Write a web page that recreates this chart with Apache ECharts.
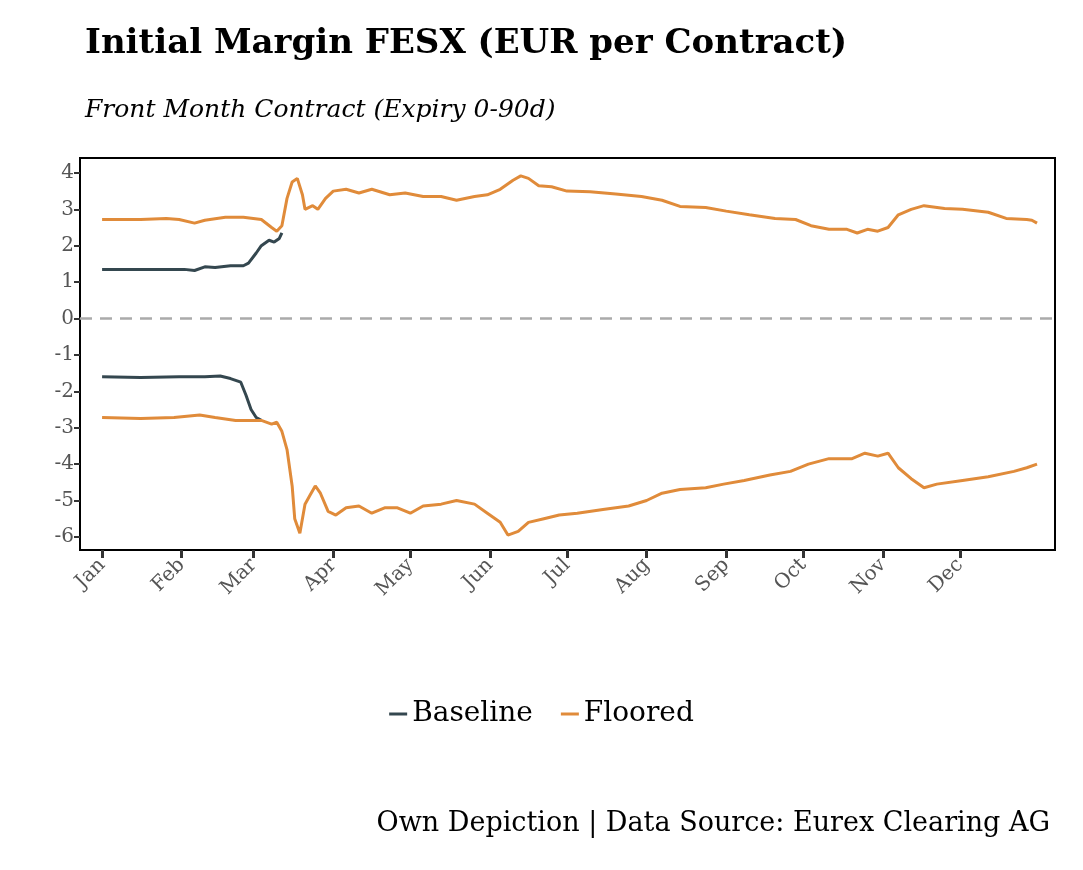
<!DOCTYPE html><html><head><meta charset="utf-8">
<script src="https://cdn.jsdelivr.net/npm/echarts@6/dist/echarts.min.js"></script>
<style>body{margin:0}#c{width:1083px;height:870px}</style></head><body><div id="c"></div>
<script>
const monthLabels=['Jan','Feb','Mar','Apr','May','Jun','Jul','Aug','Sep','Oct','Nov','Dec'];
const monthStarts=[0,31,59,90,120,151,181,212,243,273,304,334];
const yTicks=[-6,-5,-4,-3,-2,-1,0,1,2,3,4];
const baselineUpper=[[0,1.35],[20,1.35],[32,1.35],[36,1.32],[40,1.42],[44,1.4],[50,1.45],[55,1.45],[57,1.52],[60,1.8],[62,2.0],[65,2.15],[67,2.1],[69,2.2],[70,2.35]];
const baselineLower=[[0,-1.6],[15,-1.62],[30,-1.6],[40,-1.6],[46,-1.58],[50,-1.65],[54,-1.75],[56,-2.1],[58,-2.5],[60,-2.72],[62,-2.8]];
const flooredUpper=[[0,2.72],[15,2.72],[25,2.75],[30,2.72],[36,2.62],[40,2.7],[48,2.78],[55,2.78],[62,2.72],[66,2.5],[68,2.4],[70,2.55],[72,3.3],[74,3.75],[76,3.85],[78,3.4],[79,3.0],[82,3.1],[84,3.0],[87,3.3],[90,3.5],[95,3.55],[100,3.45],[105,3.55],[112,3.4],[118,3.45],[125,3.35],[132,3.35],[138,3.25],[145,3.35],[150,3.4],[155,3.55],[160,3.8],[163,3.92],[166,3.85],[170,3.65],[175,3.62],[181,3.5],[190,3.48],[200,3.42],[210,3.35],[218,3.25],[225,3.08],[235,3.05],[243,2.95],[252,2.85],[262,2.75],[270,2.72],[276,2.55],[283,2.45],[290,2.45],[294,2.35],[298,2.45],[302,2.4],[306,2.5],[310,2.85],[315,3.0],[320,3.1],[328,3.02],[335,3.0],[345,2.92],[352,2.75],[360,2.72],[362,2.7],[364,2.62]];
const flooredLower=[[0,-2.72],[15,-2.75],[28,-2.72],[38,-2.65],[44,-2.72],[52,-2.8],[62,-2.8],[66,-2.9],[68,-2.85],[70,-3.1],[72,-3.6],[74,-4.6],[75,-5.5],[77,-5.9],[79,-5.1],[81,-4.85],[83,-4.6],[85,-4.8],[88,-5.3],[91,-5.4],[95,-5.2],[100,-5.15],[105,-5.35],[110,-5.2],[115,-5.2],[120,-5.35],[125,-5.15],[132,-5.1],[138,-5.0],[145,-5.1],[150,-5.35],[155,-5.6],[158,-5.95],[162,-5.85],[166,-5.6],[172,-5.5],[178,-5.4],[185,-5.35],[195,-5.25],[205,-5.15],[212,-5.0],[218,-4.8],[225,-4.7],[235,-4.65],[242,-4.55],[250,-4.45],[260,-4.3],[268,-4.2],[275,-4.0],[283,-3.85],[292,-3.85],[297,-3.7],[302,-3.78],[306,-3.7],[310,-4.1],[315,-4.4],[320,-4.65],[325,-4.55],[335,-4.45],[345,-4.35],[355,-4.2],[360,-4.1],[364,-4.0]];
const cB='#34474f',cF='#e08b3a';
const font='DejaVu Serif';
function line(name,data,color){return{name,type:'line',data,showSymbol:false,symbol:'none',smooth:false,lineStyle:{width:3,color},itemStyle:{color},z:name==='Floored'?3:2};}
const chart=echarts.init(document.getElementById('c'));
chart.setOption({
 animation:false,
 textStyle:{fontFamily:font},
 title:[{text:'Initial Margin FESX (EUR per Contract)',left:80,top:22,textStyle:{fontFamily:font,fontWeight:'bold',fontSize:34,color:'#000'}},
  {text:'Front Month Contract (Expiry 0-90d)',left:80,top:93,textStyle:{fontFamily:font,fontStyle:'italic',fontWeight:'normal',fontSize:25,color:'#000'}},
  {text:'Own Depiction | Data Source: Eurex Clearing AG',right:28,top:805,textStyle:{fontFamily:font,fontWeight:'normal',fontSize:27,color:'#000'}}],
 legend:{data:['Baseline','Floored'],top:695,left:'center',itemWidth:18,itemHeight:3,icon:'rect',itemGap:28,textStyle:{fontFamily:font,fontSize:28,color:'#000'}},
 grid:{left:80,right:28,top:158,bottom:320,show:true,borderColor:'#000',borderWidth:2,backgroundColor:'transparent'},
 xAxis:{type:'value',min:-8.6,max:371,splitLine:{show:false},axisLine:{show:false,onZero:false},
  axisTick:{show:true,customValues:monthStarts,length:8,lineStyle:{color:'#333',width:3},inside:false},
  axisLabel:{customValues:monthStarts,formatter:v=>monthLabels[monthStarts.indexOf(v)],rotate:45,fontFamily:font,fontSize:20,color:'#555',margin:12}},
 yAxis:{type:'value',min:-6.36,max:4.41,splitLine:{show:false},axisLine:{show:false,onZero:false},
  axisTick:{show:true,customValues:yTicks,length:6,lineStyle:{color:'#333',width:2}},
  axisLabel:{customValues:yTicks,fontFamily:font,fontSize:20,color:'#555',margin:6}},
 series:[line('Baseline',baselineUpper,cB),line('Baseline',baselineLower,cB),
  Object.assign(line('Floored',flooredUpper,cF),{markLine:{silent:true,symbol:'none',label:{show:false},lineStyle:{type:[12,8],color:'#aaa',width:2.5},data:[{yAxis:0}]}}),
  line('Floored',flooredLower,cF)]
});
</script></body></html>
